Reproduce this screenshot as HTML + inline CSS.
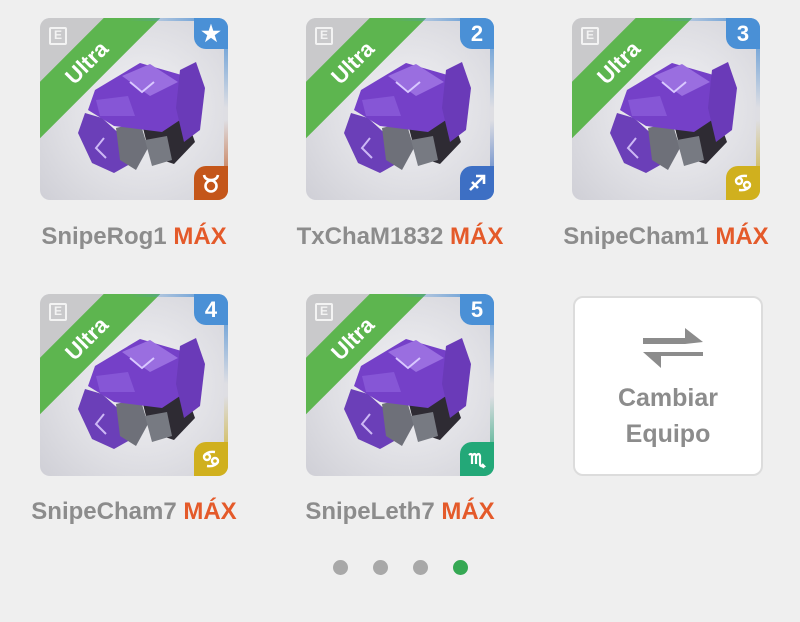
<!DOCTYPE html>
<html><head><meta charset="utf-8"><style>
body{margin:0;width:800px;height:622px;background:#efefef;position:relative;overflow:hidden;font-family:"Liberation Sans",sans-serif}
.card{position:absolute;width:188px;height:182px;border-radius:10px;overflow:hidden;background:radial-gradient(circle at 55% 50%,#f2f2f5 0%,#dedee3 60%,#cfcfd6 100%)}
.tl{position:absolute;left:0;top:0;width:100px;height:100px;background:#c9c9cb;clip-path:polygon(0 0,66px 0,0 66px)}
.band{position:absolute;left:-103px;top:25px;width:300px;height:40px;background:#5db54f;transform:rotate(-45deg);transform-origin:center;color:#fff;font-weight:bold;font-size:22px;text-align:center;line-height:40px}
.note{position:absolute;left:9px;top:9px;width:14px;height:14px;border:2px solid #f3f3f3;border-radius:2px}
.note:after{content:"E";position:absolute;left:3px;top:-1px;font-size:12px;color:#f3f3f3;font-weight:bold}
.tr{position:absolute;right:0;top:0;width:34px;height:31px;border-bottom-left-radius:12px;color:#fff;font-weight:bold;font-size:22px;text-align:center;line-height:31px}
.trs{position:absolute;right:0;top:0;width:4px;height:90px}
.trt{position:absolute;right:0;top:0;width:100px;height:3px}
.br{position:absolute;right:0;bottom:0;width:34px;height:34px;border-top-left-radius:12px}
.br svg{position:absolute;left:7px;top:7px}
.brs{position:absolute;right:0;bottom:0;width:4px;height:80px}
.lbl{position:absolute;width:266px;text-align:center;font-weight:bold;font-size:24px;color:#8c8c8c}
.lbl b{color:#e45a2a}
.dot{position:absolute;top:560px;width:15px;height:15px;border-radius:50%;background:#a8a8a8}
svg.cr{position:absolute;left:0;top:0}
</style></head><body>

<svg width="0" height="0" style="position:absolute"><defs>
<g id="mon">
<polygon points="62,100 45,95 38,115 52,145 74,155 90,146 84,120" fill="#6b3fb8"/>
<polygon points="76,110 100,104 108,130 96,152 80,142" fill="#6e7079"/>
<polygon points="100,98 145,96 155,124 134,146 110,138" fill="#2e2b33"/>
<polygon points="105,122 127,118 132,142 112,148" fill="#777a82"/>
<polygon points="55,72 100,45 145,58 155,92 122,114 74,108 48,92" fill="#7540c8"/>
<polygon points="82,58 110,46 138,64 110,78" fill="#9a6ee0"/>
<polygon points="140,52 156,44 165,70 160,112 144,124 136,90" fill="#6a3ab8"/>
<polygon points="56,82 88,78 95,98 60,98" fill="#8656d6"/>
<polyline points="90,64 102,74 114,64" stroke="#d9c8ff" stroke-width="2" fill="none"/>
<polyline points="64,120 56,130 66,140" stroke="#cdb8f5" stroke-width="2" fill="none"/>
</g>
<g id="taurus" fill="none" stroke="#fff" stroke-width="2.6"><circle cx="10" cy="13" r="5.5"/><path d="M3,2 Q4,7 10,7 Q16,7 17,2"/></g>
<g id="sag" fill="none" stroke="#fff" stroke-width="2.6"><path d="M3,17 L17,3 M9,3 H17 V11 M5,9 L11,15"/></g>
<g id="cancer" fill="none" stroke="#fff" stroke-width="2.4"><circle cx="6" cy="8" r="3"/><circle cx="14" cy="12" r="3"/><path d="M3,7 Q6,2 14,3 M17,13 Q14,18 6,17"/></g>
<g id="scorp" fill="none" stroke="#fff" stroke-width="2.2"><path d="M2,6 Q4,4 5,6 V15 M5,7 Q8,3 9,7 V15 M9,7 Q12,3 13,7 V15 Q13,18 17,17 L15,15 M17,17 L16,19"/></g>
</defs></svg>

<div class="card" style="left:40px;top:18px">
<svg class="cr" width="188" height="182"><use href="#mon"/></svg>
<div class="tl"></div><div class="band">Ultra</div><div class="note"></div>
<div class="trt" style="background:linear-gradient(90deg,transparent,#4a90d6)"></div><div class="trs" style="background:linear-gradient(#4a90d6,transparent)"></div><div class="tr" style="background:#4a90d6">★</div>
<div class="brs" style="background:linear-gradient(transparent,#c4561a)"></div><div class="br" style="background:#c4561a"><svg width="20" height="20"><use href="#taurus"/></svg></div>
</div>
<div class="card" style="left:306px;top:18px">
<svg class="cr" width="188" height="182"><use href="#mon"/></svg>
<div class="tl"></div><div class="band">Ultra</div><div class="note"></div>
<div class="trt" style="background:linear-gradient(90deg,transparent,#4a90d6)"></div><div class="trs" style="background:linear-gradient(#4a90d6,transparent)"></div><div class="tr" style="background:#4a90d6">2</div>
<div class="brs" style="background:linear-gradient(transparent,#3d6fc4)"></div><div class="br" style="background:#3d6fc4"><svg width="20" height="20"><use href="#sag"/></svg></div>
</div>
<div class="card" style="left:572px;top:18px">
<svg class="cr" width="188" height="182"><use href="#mon"/></svg>
<div class="tl"></div><div class="band">Ultra</div><div class="note"></div>
<div class="trt" style="background:linear-gradient(90deg,transparent,#4a90d6)"></div><div class="trs" style="background:linear-gradient(#4a90d6,transparent)"></div><div class="tr" style="background:#4a90d6">3</div>
<div class="brs" style="background:linear-gradient(transparent,#d0b01e)"></div><div class="br" style="background:#d0b01e"><svg width="20" height="20"><use href="#cancer"/></svg></div>
</div>
<div class="card" style="left:40px;top:294px">
<svg class="cr" width="188" height="182"><use href="#mon"/></svg>
<div class="tl"></div><div class="band">Ultra</div><div class="note"></div>
<div class="trt" style="background:linear-gradient(90deg,transparent,#4a90d6)"></div><div class="trs" style="background:linear-gradient(#4a90d6,transparent)"></div><div class="tr" style="background:#4a90d6">4</div>
<div class="brs" style="background:linear-gradient(transparent,#d0b01e)"></div><div class="br" style="background:#d0b01e"><svg width="20" height="20"><use href="#cancer"/></svg></div>
</div>
<div class="card" style="left:306px;top:294px">
<svg class="cr" width="188" height="182"><use href="#mon"/></svg>
<div class="tl"></div><div class="band">Ultra</div><div class="note"></div>
<div class="trt" style="background:linear-gradient(90deg,transparent,#4a90d6)"></div><div class="trs" style="background:linear-gradient(#4a90d6,transparent)"></div><div class="tr" style="background:#4a90d6">5</div>
<div class="brs" style="background:linear-gradient(transparent,#23a878)"></div><div class="br" style="background:#23a878"><svg width="20" height="20"><use href="#scorp"/></svg></div>
</div>

<div style="position:absolute;left:573px;top:296px;width:186px;height:176px;background:#fff;border:2px solid #dcdcdc;border-radius:10px;text-align:center;color:#8c8c8c;font-weight:bold;font-size:25px">
<svg width="64" height="48" style="position:absolute;left:66px;top:26px">
<polygon points="2,14 44,14 44,4 62,18 44,20 2,20" fill="#8c8c8c"/>
<polygon points="62,32 20,32 20,28 62,28" fill="#8c8c8c"/>
<polygon points="2,28 20,28 20,44" fill="#8c8c8c"/>
</svg>
<div style="position:absolute;top:82px;width:100%;line-height:36px">Cambiar<br>Equipo</div>
</div>

<div class="lbl" style="left:1px;top:223px">SnipeRog1 <b>MÁX</b></div>
<div class="lbl" style="left:267px;top:223px">TxChaM1832 <b>MÁX</b></div>
<div class="lbl" style="left:533px;top:223px">SnipeCham1 <b>MÁX</b></div>
<div class="lbl" style="left:1px;top:498px">SnipeCham7 <b>MÁX</b></div>
<div class="lbl" style="left:267px;top:498px">SnipeLeth7 <b>MÁX</b></div>

<div class="dot" style="left:333px"></div>
<div class="dot" style="left:373px"></div>
<div class="dot" style="left:413px"></div>
<div class="dot" style="left:453px;background:#35a853"></div>
</body></html>
